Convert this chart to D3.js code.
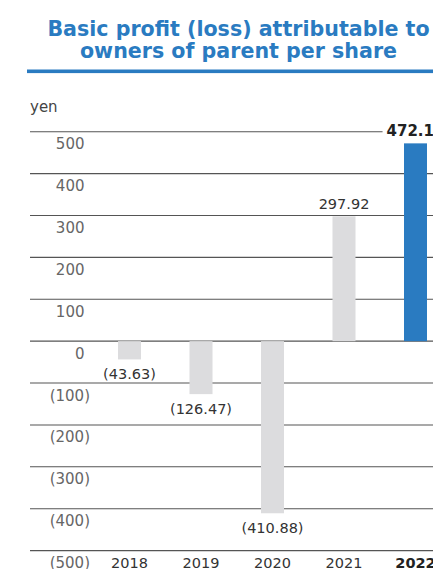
<!DOCTYPE html>
<html>
<head>
<meta charset="utf-8">
<script src="https://cdn.jsdelivr.net/npm/d3@7/dist/d3.min.js"></script>
<style>
  html, body { margin: 0; padding: 0; background: #fff; overflow: hidden; }
  svg { display: block; font-family: "DejaVu Sans", Verdana, sans-serif; }
</style>
</head>
<body>
<svg id="chart" width="433" height="569"></svg>
<script>
// Basic profit (loss) per share, yen
const years = ["2018", "2019", "2020", "2021", "2022"];
const values = [-43.63, -126.47, -410.88, 297.92, 472.16];
const valueLabels = ["(43.63)", "(126.47)", "(410.88)", "297.92", "472.16"];
const tickValues = [500, 400, 300, 200, 100, 0, -100, -200, -300, -400, -500];
const tickLabels = ["500", "400", "300", "200", "100", "0", "(100)", "(200)", "(300)", "(400)", "(500)"];
const titleLines = ["Basic profit (loss) attributable to", "owners of parent per share"];
const unitLabel = "yen";
const highlightYear = "2022";

const svg = d3.select("#chart");
const blue = "#2a7bc1";
const grey = "#dcdcde";

// Title and rule
svg.selectAll("text.title")
  .data(titleLines)
  .join("text")
  .attr("class", "title")
  .attr("x", 238.5)
  .attr("y", (d, i) => 36 + i * 21.5)
  .attr("text-anchor", "middle")
  .attr("font-size", 20.6)
  .attr("font-weight", "bold")
  .attr("fill", blue)
  .text(d => d);

svg.append("rect")
  .attr("x", 27).attr("y", 69.5)
  .attr("width", 433 - 27).attr("height", 3.6)
  .attr("fill", blue);

// Scales
const y = d3.scaleLinear().domain([-500, 500]).range([550.6, 131.7]);
const x = d3.scalePoint().domain(years).range([129.5, 415.5]);
const barW = 23;

// Unit
svg.append("text")
  .attr("x", 30).attr("y", 111.5)
  .attr("font-size", 15)
  .attr("fill", "#444")
  .text(unitLabel);

// Gridlines
svg.append("g")
  .selectAll("line")
  .data(tickValues)
  .join("line")
  .attr("x1", 30).attr("x2", 433)
  .attr("y1", d => y(d)).attr("y2", d => y(d))
  .attr("stroke", "#555")
  .attr("stroke-width", 1.1);

// Tick labels, digits aligned with closing parenthesis hanging
svg.append("g")
  .selectAll("text")
  .data(tickValues)
  .join("text")
  .attr("x", (d, i) => tickLabels[i].endsWith(")") ? 90 : 84.5)
  .attr("y", d => y(d) + 17.5)
  .attr("text-anchor", "end")
  .attr("font-size", 15)
  .attr("fill", "#666")
  .text((d, i) => tickLabels[i]);

// Bars
svg.append("g")
  .selectAll("rect")
  .data(years)
  .join("rect")
  .attr("x", d => x(d) - barW / 2)
  .attr("width", barW)
  .attr("y", (d, i) => y(Math.max(0, values[i])))
  .attr("height", (d, i) => Math.abs(y(values[i]) - y(0)))
  .attr("fill", d => d === highlightYear ? blue : grey);

// Value labels
const lbl = svg.append("g")
  .selectAll("g")
  .data(years)
  .join("g");

lbl.each(function(d, i) {
  const g = d3.select(this);
  const v = values[i];
  const bold = d === highlightYear;
  const ty = v >= 0 ? y(v) - 7.5 : y(v) + 20;
  const t = g.append("text")
    .attr("x", x(d))
    .attr("y", ty)
    .attr("text-anchor", "middle")
    .attr("font-size", bold ? 15 : 14.5)
    .attr("font-weight", bold ? "bold" : "normal")
    .attr("fill", bold ? "#222" : "#333")
    .text(valueLabels[i]);
  if (bold) {
    const bb = t.node().getBBox();
    g.insert("rect", "text")
      .attr("x", bb.x - 4)
      .attr("y", bb.y)
      .attr("width", bb.width + 8)
      .attr("height", bb.height)
      .attr("fill", "#fff");
  }
});

// Year labels
svg.append("g")
  .selectAll("text")
  .data(years)
  .join("text")
  .attr("x", d => x(d))
  .attr("y", 567.5)
  .attr("text-anchor", "middle")
  .attr("font-size", 14.5)
  .attr("font-weight", d => d === highlightYear ? "bold" : "normal")
  .attr("fill", d => d === highlightYear ? "#222" : "#333")
  .text(d => d);
</script>
</body>
</html>
